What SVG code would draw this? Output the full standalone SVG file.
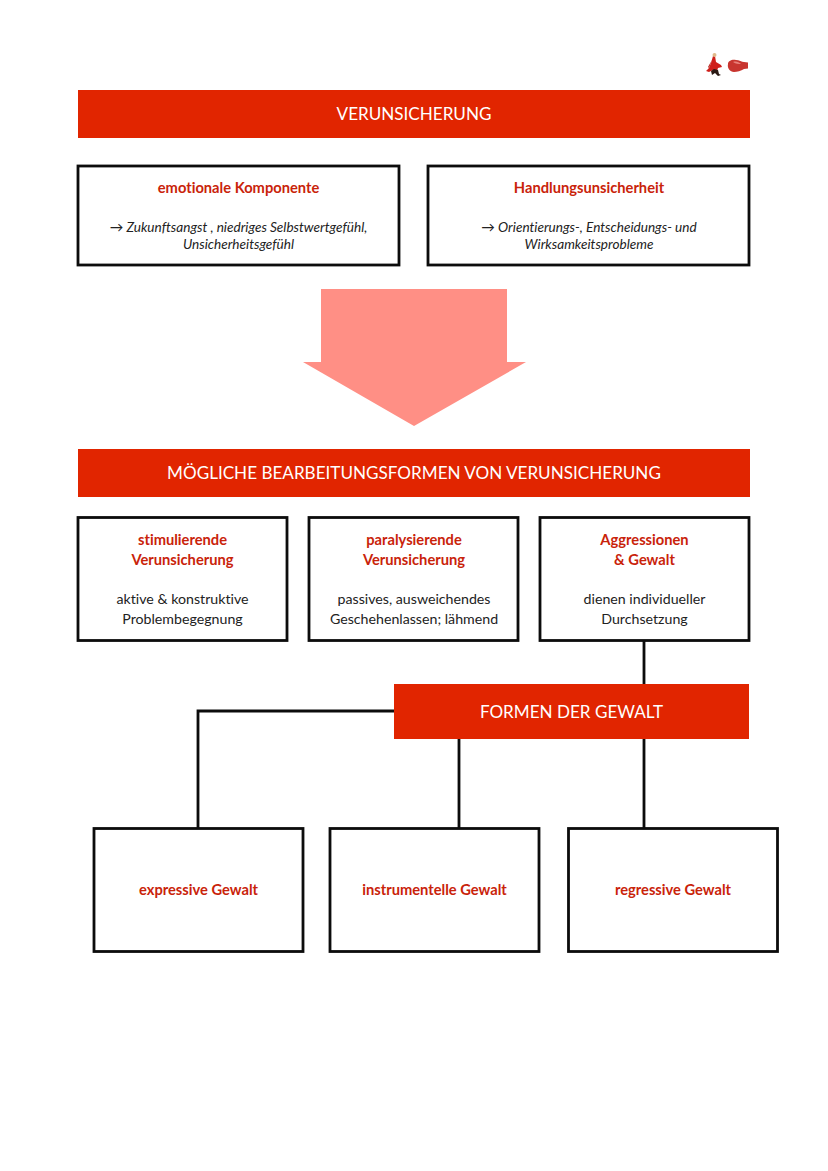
<svg xmlns="http://www.w3.org/2000/svg" width="828" height="1171" viewBox="0 0 828 1171">
<style>
text{font-family:"Lato","Noto Sans","Liberation Sans",sans-serif;text-anchor:middle;font-variant-ligatures:none}
.bar{fill:#e12500}
.box{fill:#fff;stroke:#0c0c0c;stroke-width:2.800}
.h{fill:#fff;font-size:17.100px}
.t{fill:#c9230a;font-size:14.700px;font-weight:700}
.b{fill:#222;font-size:14.200px}
.i{fill:#222;font-size:13.600px;font-style:italic}
.c{fill:none;stroke:#0c0c0c;stroke-width:2.800}
</style>
<rect width="828" height="1171" fill="#fff"/>
<g id="icons">
<path d="M713 56l2 0 1 6 5 3 1 2-4 1-1 3-4-1-4 2-3-1 3-3 2-5z" fill="#cf1f1a"/>
<path d="M711 71l1 4 3-2 3 3 3-1-2-1-1-4-4-1z" fill="#2a1a14"/>
<circle cx="714.500" cy="55" r="2" fill="#e0b98a"/>
<path d="M712 60l-4 7 1 1z" fill="#b8201a"/>
<path d="M728 64c0-3 4-5 8-4 3 0 6 2 8 2l4 0.500v6l-4 0.500c-3 2-7 3-10 3-4 0-7-4-6-8z" fill="#c8352f"/>
<path d="M733 62c3-1 6 0 8 2-3 0-5 0-8-2z" fill="#e8807a"/>
</g>
<g id="connectors">
<path class="c" d="M644 641V684M394 711H198V828M459 739V828M644 739V828"/>
</g>
<g id="n-verunsicherung"><rect class="bar" x="78" y="90" width="672" height="48"/><text class="h" x="414" y="120">VERUNSICHERUNG</text></g>
<g id="n-emotional"><rect class="box" x="78" y="166" width="321" height="99"/><text class="t" x="238.500" y="193">emotionale Komponente</text><text class="i" x="238.500" y="232">→ Zukunftsangst , niedriges Selbstwertgefühl,</text><text class="i" x="238.500" y="249">Unsicherheitsgefühl</text></g>
<g id="n-handlung"><rect class="box" x="428" y="166" width="321" height="99"/><text class="t" x="589" y="193">Handlungsunsicherheit</text><text class="i" x="589" y="232">→ Orientierungs-, Entscheidungs- und</text><text class="i" x="589" y="249">Wirksamkeitsprobleme</text></g>
<g id="n-arrow"><path d="M321 289H507V362H526L414 426L303 362H321Z" fill="#ff8f85"/></g>
<g id="n-bearbeitung"><rect class="bar" x="78" y="449" width="672" height="48"/><text class="h" x="414" y="479">MÖGLICHE BEARBEITUNGSFORMEN VON VERUNSICHERUNG</text></g>
<g id="n-stim"><rect class="box" x="78" y="517.500" width="209" height="123"/><text class="t" x="182.500" y="545">stimulierende</text><text class="t" x="182.500" y="565">Verunsicherung</text><text class="b" x="182.500" y="604">aktive &amp; konstruktive</text><text class="b" x="182.500" y="624">Problembegegnung</text></g>
<g id="n-para"><rect class="box" x="309" y="517.500" width="209" height="123"/><text class="t" x="414" y="545">paralysierende</text><text class="t" x="414" y="565">Verunsicherung</text><text class="b" x="414" y="604">passives, ausweichendes</text><text class="b" x="414" y="624">Geschehenlassen; lähmend</text></g>
<g id="n-aggr"><rect class="box" x="540" y="517.500" width="209" height="123"/><text class="t" x="644.500" y="545">Aggressionen</text><text class="t" x="644.500" y="565">&amp; Gewalt</text><text class="b" x="644.500" y="604">dienen individueller</text><text class="b" x="644.500" y="624">Durchsetzung</text></g>
<g id="n-formen"><rect class="bar" x="394" y="684" width="355" height="55"/><text class="h" x="571.500" y="718">FORMEN DER GEWALT</text></g>
<g id="n-expressiv"><rect class="box" x="94" y="828.500" width="209" height="123"/><text class="t" x="198.500" y="895">expressive Gewalt</text></g>
<g id="n-instrumentell"><rect class="box" x="330" y="828.500" width="209" height="123"/><text class="t" x="434.500" y="895">instrumentelle Gewalt</text></g>
<g id="n-regressiv"><rect class="box" x="568.500" y="828.500" width="209" height="123"/><text class="t" x="673" y="895">regressive Gewalt</text></g>
</svg>
